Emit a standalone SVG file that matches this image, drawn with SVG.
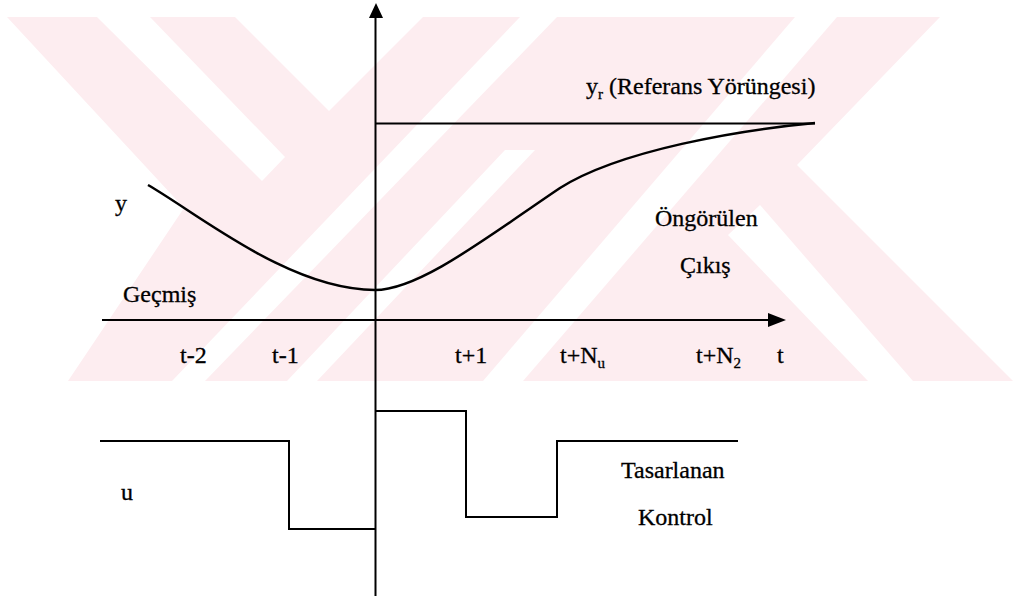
<svg xmlns="http://www.w3.org/2000/svg" width="1015" height="596" viewBox="0 0 1015 596">
<defs>
<style>
.ln{fill:none;stroke:#000;stroke-width:2}
.cv{fill:none;stroke:#000;stroke-width:2.5}
.tx{font-family:"Liberation Serif","Times New Roman",serif;font-size:24px;fill:#000;stroke:#000;stroke-width:0.3}
.wm{fill:#fdedf0}
.wg{fill:#fff}
</style>
<clipPath id="band"><rect x="0" y="17" width="1015" height="364"/></clipPath>
</defs>
<rect width="1015" height="596" fill="#fff"/>
<g id="watermark" clip-path="url(#band)">
<polygon class="wm" points="7,17 940,17 797,165 1013,381 68,381 184,208"/>
<polygon class="wg" points="97,17 150,17 285,157 262,181"/>
<polygon class="wg" points="235,17 423,17 329,111"/>
<polygon class="wg" points="520,17 557,17 205,381 172,381"/>
<polygon class="wg" points="505,150 535,150 317,381 287,381"/>
<polygon class="wg" points="795,17 837,17 523,381 483,381"/>
<polygon class="wg" points="728,235 760,205 913,381 868,381"/>
</g>
<g id="axes">
<line class="ln" x1="375.5" y1="16" x2="375.5" y2="596"/>
<polygon points="376,3 369,18 383,18" fill="#000"/>
<line class="ln" x1="102" y1="320" x2="770" y2="320"/>
<polygon points="786,320 768,313 768,327" fill="#000"/>
</g>
<g id="reference">
<line class="ln" x1="376" y1="123.5" x2="815" y2="123.5"/>
</g>
<g id="output-curve">
<path class="cv" d="M148,185 C200,215 290,290 375,290 C420,290 490,235 560,188 C620,150 740,130 815,123"/>
</g>
<g id="control-signal">
<polyline class="ln" points="100,441 289,441 289,529 375,529"/>
<polyline class="ln" points="375,411 466,411 466,517 557,517 557,441 738,441"/>
</g>
<g id="labels" font-family="Liberation Serif, Times New Roman, serif">
<text class="tx" x="586" y="94">y<tspan font-size="15" dy="5">r</tspan><tspan dy="-5"> (Referans Yörüngesi)</tspan></text>
<text class="tx" x="115" y="211">y</text>
<text class="tx" x="123" y="302">Geçmiş</text>
<text class="tx" x="655" y="226">Öngörülen</text>
<text class="tx" x="680" y="273">Çıkış</text>
<text class="tx" x="180" y="363">t-2</text>
<text class="tx" x="272" y="363">t-1</text>
<text class="tx" x="455" y="363">t+1</text>
<text class="tx" x="560" y="363">t+N<tspan font-size="15" dy="5">u</tspan></text>
<text class="tx" x="696" y="363">t+N<tspan font-size="15" dy="5">2</tspan></text>
<text class="tx" x="777" y="363">t</text>
<text class="tx" x="121" y="500">u</text>
<text class="tx" x="621" y="478">Tasarlanan</text>
<text class="tx" x="638" y="525">Kontrol</text>
</g>
</svg>
